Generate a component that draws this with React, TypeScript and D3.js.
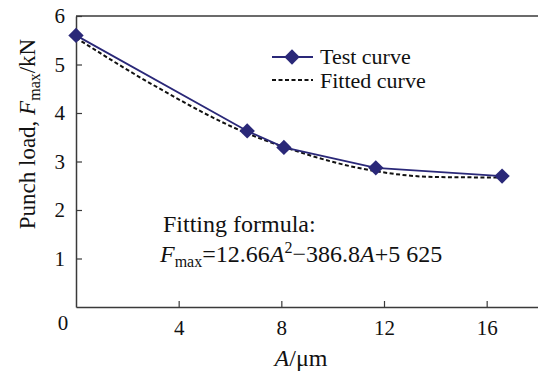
import React, { useRef, useEffect } from "react";
import * as d3 from "d3";

const testA = [0, 6.67, 8.1, 11.68, 16.6];
const testLoad = [5.6, 3.63, 3.29, 2.87, 2.7];
const fitA = [0, 3, 6.67, 8.1, 11.68, 14, 16.6];
const fitLoad = [5.55, 4.58, 3.58, 3.3, 2.8, 2.68, 2.67];
const xTicks = [4, 8, 12, 16];
const yTicks = [1, 2, 3, 4, 5, 6];

const W = 538;
const H = 374;
const FONT = "Liberation Serif";
const NAVY = "#2a2878";
const AXIS = "#3a3a3a";

const App = () => {
  const svgRef = useRef<SVGSVGElement>(null);

  useEffect(() => {
    const svg = d3.select(svgRef.current);
    svg.selectAll("*").remove();

    const margin = { top: 16, right: 0, bottom: 67, left: 76 };
    const x = d3.scaleLinear().domain([0, 18]).range([margin.left, W - margin.right]);
    const y = d3.scaleLinear().domain([0, 6]).range([H - margin.bottom, margin.top]);

    const txt = (sel: any, size = 21) =>
      sel.attr("font-family", FONT).attr("font-size", size).attr("fill", "#111");

    // top frame line
    svg.append("line")
      .attr("x1", x(0)).attr("x2", W)
      .attr("y1", y(6)).attr("y2", y(6))
      .attr("stroke", AXIS).attr("stroke-width", 1.5);

    // x axis (ticks point inward)
    const gx = svg.append("g")
      .attr("transform", `translate(0,${y(0)})`)
      .call(d3.axisBottom(x).tickValues(xTicks).tickFormat(d3.format("d")).tickSizeInner(-6).tickSizeOuter(0).tickPadding(13));
    gx.call(txt);
    gx.select(".domain").attr("stroke", AXIS).attr("stroke-width", 1.5);
    gx.selectAll(".tick line").attr("stroke", AXIS).attr("stroke-width", 1.2);
    gx.selectAll("text").attr("fill", "#111");

    // y axis
    const gy = svg.append("g")
      .attr("transform", `translate(${x(0)},0)`)
      .call(d3.axisLeft(y).tickValues(yTicks).tickFormat(d3.format("d")).tickSizeInner(-6).tickSizeOuter(0).tickPadding(11));
    gy.call(txt);
    gy.select(".domain").attr("stroke", AXIS).attr("stroke-width", 1.5);
    gy.selectAll(".tick line").attr("stroke", AXIS).attr("stroke-width", 1.2);
    gy.selectAll("text").attr("fill", "#111");

    // shared origin label
    svg.append("text")
      .attr("x", x(0) - 13).attr("y", y(0) + 23)
      .attr("text-anchor", "middle")
      .call(txt)
      .text("0");

    // fitted curve (dashed)
    const fitted = fitA.map((a, i) => [a, fitLoad[i]] as [number, number]);
    svg.append("path")
      .datum(fitted)
      .attr("fill", "none")
      .attr("stroke", "#111")
      .attr("stroke-width", 2)
      .attr("stroke-dasharray", "4,2.5")
      .attr("d", d3.line<[number, number]>().x((d) => x(d[0])).y((d) => y(d[1])).curve(d3.curveMonotoneX));

    // test curve
    const test = testA.map((a, i) => [a, testLoad[i]] as [number, number]);
    svg.append("path")
      .datum(test)
      .attr("fill", "none")
      .attr("stroke", NAVY)
      .attr("stroke-width", 1.8)
      .attr("d", d3.line<[number, number]>().x((d) => x(d[0])).y((d) => y(d[1])));

    const diamond = d3.symbol().type(d3.symbolDiamond2).size(150);
    svg.append("g")
      .selectAll("path")
      .data(test)
      .join("path")
      .attr("transform", (d) => `translate(${x(d[0])},${y(d[1])})`)
      .attr("d", diamond())
      .attr("fill", NAVY);

    // legend
    const lg = svg.append("g");
    lg.append("line").attr("x1", 272).attr("x2", 313).attr("y1", 57).attr("y2", 57)
      .attr("stroke", NAVY).attr("stroke-width", 1.8);
    lg.append("path").attr("transform", "translate(292,57)").attr("d", diamond()).attr("fill", NAVY);
    lg.append("line").attr("x1", 272).attr("x2", 313).attr("y1", 80).attr("y2", 80)
      .attr("stroke", "#111").attr("stroke-width", 2).attr("stroke-dasharray", "4,2.5");
    lg.append("text").attr("x", 320).attr("y", 64).call(txt, 22).text("Test curve");
    lg.append("text").attr("x", 320).attr("y", 88).call(txt, 22).text("Fitted curve");

    // formula
    svg.append("text").attr("x", 163).attr("y", 232).call(txt, 24).text("Fitting formula:");
    const f = svg.append("text").attr("x", 160).attr("y", 262).call(txt, 24);
    f.append("tspan").attr("font-style", "italic").text("F");
    f.append("tspan").attr("font-size", 16).attr("dy", 5).text("max");
    f.append("tspan").attr("dy", -5).text("=12.66");
    f.append("tspan").attr("font-style", "italic").text("A");
    f.append("tspan").attr("font-size", 16).attr("dy", -9).text("2");
    f.append("tspan").attr("dy", 9).text("\u2212386.8");
    f.append("tspan").attr("font-style", "italic").text("A");
    f.append("tspan").text("+5 625");

    // axis titles
    const xl = svg.append("text").attr("x", 301).attr("y", 366)
      .attr("text-anchor", "middle").call(txt, 24);
    xl.append("tspan").attr("font-style", "italic").text("A");
    xl.append("tspan").text("/\u03bcm");

    const yl = svg.append("text")
      .attr("transform", "translate(35,134) rotate(-90)")
      .attr("text-anchor", "middle").call(txt, 23);
    yl.append("tspan").text("Punch load, ");
    yl.append("tspan").attr("font-style", "italic").text("F");
    yl.append("tspan").attr("font-size", 16).attr("dy", 5).text("max");
    yl.append("tspan").attr("dy", -5).text("/kN");
  }, []);

  return (
    <svg
      ref={svgRef}
      width={W}
      height={H}
      style={{ position: "absolute", left: 0, top: 0, background: "#fff" }}
    ></svg>
  );
};

export default App;
